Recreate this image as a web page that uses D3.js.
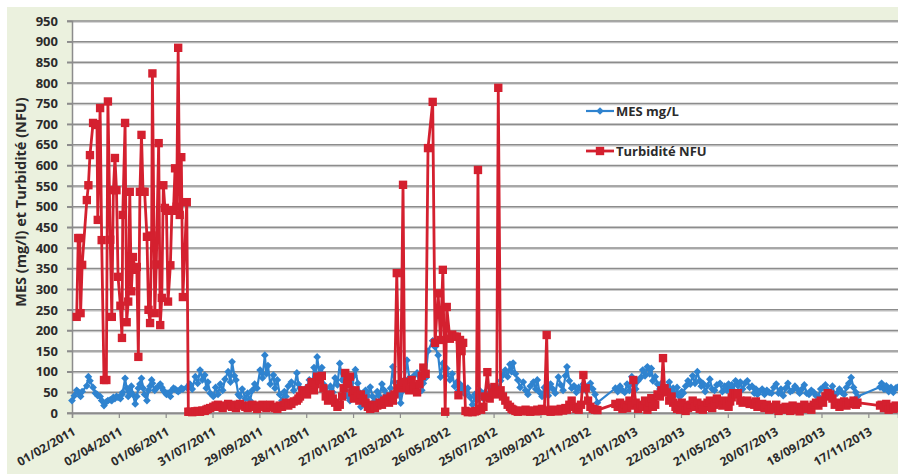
<!DOCTYPE html>
<html>
<head>
<meta charset="utf-8">
<script src="https://cdn.jsdelivr.net/npm/d3@7"></script>
<style>
  html, body { margin: 0; padding: 0; background: #ffffff; }
  svg { display: block; }
</style>
</head>
<body>
<svg id="chart" width="898" height="474"></svg>
<script>
// Suivi MES / turbidité — dates de prélèvement exprimées en jours depuis le 01/02/2011
const startDate = "01/02/2011";
const axisEndDate = "25/12/2013";

const tickLabels = [
  "01/02/2011", "02/04/2011", "01/06/2011", "31/07/2011", "29/09/2011", "28/11/2011",
  "27/01/2012", "27/03/2012", "26/05/2012", "25/07/2012", "23/09/2012", "22/11/2012",
  "21/01/2013", "22/03/2013", "21/05/2013", "20/07/2013", "18/09/2013", "17/11/2013"
];

const yTickValues = [0, 50, 100, 150, 200, 250, 300, 350, 400, 450, 500,
  550, 600, 650, 700, 750, 800, 850, 900, 950];

const seriesNames = ["MES mg/L", "Turbidité NFU"];

const sampleDay = [
  0, 3, 6, 8, 10, 11, 13, 19, 21, 23, 27, 30, 32, 33, 36, 38, 41, 44, 46, 49,
  51, 53, 55, 57, 59, 62, 64, 65, 68, 70, 72, 74, 76, 78, 81, 83, 85, 87, 89, 91,
  93, 96, 98, 100, 102, 103, 106, 108, 111, 113, 115, 117, 119, 121, 123, 126, 128, 130, 132, 134,
  136, 138, 140, 142, 147, 149,
  151, 154, 158, 161, 164, 167, 170, 172, 174, 177, 181, 184, 187, 190, 193, 196, 200, 203, 205, 208,
  210, 213, 215, 218, 222, 225, 228, 231, 234, 237, 241, 244, 247, 249, 251, 254, 258, 260, 263, 266,
  269, 272, 274, 277, 281, 284, 288, 290, 292, 295, 298,
  301, 304, 307, 310, 312, 314, 317, 320, 322, 325, 328, 331, 334, 337, 340, 343, 346, 348, 350, 353,
  356, 359, 361, 363, 366, 368, 370, 373, 376, 379, 382, 385, 388, 391, 394, 397, 400, 403, 406, 408,
  411, 413, 416, 419, 421, 424, 426, 429, 432, 435, 438, 442, 445, 448, 450, 453, 456, 462, 465, 469,
  472, 475, 478, 480, 484, 487, 490, 493, 495, 497, 499, 501, 504, 507, 510, 513, 516, 518, 520, 522,
  524, 527, 529, 532, 535, 538, 541, 544, 546, 549, 552, 555, 558, 561, 563, 565, 568, 571, 574, 578,
  581, 584, 587, 591, 594, 596, 599, 602, 605, 608, 610, 613, 616, 619, 623, 626, 629, 632, 634, 637,
  640, 643, 646, 649, 652, 655, 658, 661, 664, 667, 670, 673,
  696, 699, 702, 705, 708, 711, 714, 717, 719, 722, 725, 728, 731, 734, 737, 740, 742, 744, 747, 750,
  753, 755, 757, 759, 762, 765, 768, 770, 773, 775, 777, 779, 781, 783, 786, 789, 792, 795, 798, 801,
  804, 806, 808, 811, 814, 817, 820, 823, 826, 830, 833, 836, 839, 841, 843, 845, 847, 850, 853, 856,
  859, 862, 865, 868, 871, 874, 876, 878, 881, 884, 887, 890, 893, 896, 899, 902, 905, 908, 911, 914,
  917, 920, 923, 926, 929, 932, 935, 938, 941, 944, 947, 950, 953, 956, 959, 962, 965, 968, 971, 974,
  977, 980, 983, 986, 989, 992, 995, 998, 1001, 1004, 1006,
  1035, 1037, 1040, 1043, 1046, 1049, 1052, 1055, 1057
];

const mes = [
  30, 42, 55, 50, 48, 40, 52, 66, 88, 78, 62, 48, 45, 42, 40, 30, 18, 27, 30, 32,
  30, 38, 35, 40, 38, 35, 45, 50, 84, 60, 40, 52, 65, 45, 22, 40, 60, 70, 84, 60,
  45, 30, 55, 65, 80, 72, 55, 60, 65, 70, 62, 55, 50, 45, 48, 40, 55, 60, 58, 55,
  52, 55, 60, 58, 62, 62,
  70, 58, 88, 72, 104, 80, 92, 60, 75, 48, 40, 62, 45, 70, 55, 82, 100, 75, 124, 90,
  80, 45, 40, 58, 35, 48, 30, 55, 70, 60, 104, 85, 140, 95, 115, 70, 92, 60, 80, 45,
  30, 52, 40, 65, 75, 55, 97, 70, 60, 45, 55,
  63, 80, 55, 110, 78, 136, 95, 110, 70, 60, 40, 65, 50, 85, 68, 120, 80, 95, 55, 40,
  30, 60, 90, 105, 72, 50, 15, 38, 55, 42, 63, 40, 30, 52, 40, 70, 55, 45, 35, 60,
  112, 75, 60, 45, 24, 55, 80, 128, 85, 65, 90, 97, 70, 55, 72, 85, 150, 175, 160, 140,
  87, 120, 90, 108, 80, 95, 65, 75, 55, 70, 50, 62, 45, 60, 38, 20, 45, 30, 40, 55,
  48, 35, 50, 40, 62, 55, 45, 63, 58, 78, 92, 104, 88, 118, 100, 121, 95, 80, 62, 75,
  55, 45, 65, 75, 58, 80, 50, 40, 62, 55, 42, 70, 58, 48, 87, 68, 55, 90, 112, 78,
  60, 66, 50, 62, 58, 70, 55, 62, 72, 58, 45, 25,
  60, 52, 65, 55, 50, 70, 55, 88, 68, 58, 78, 85, 104, 90, 112, 95, 108, 78, 88, 70,
  58, 72, 60, 52, 62, 75, 50, 60, 45, 62, 42, 40, 52, 48, 65, 78, 70, 90, 72, 100,
  78, 65, 72, 52, 66, 82, 58, 55, 68, 72, 52, 65, 55, 70, 58, 68, 55, 78, 66, 75,
  58, 72, 78, 62, 65, 48, 58, 45, 52, 58, 45, 55, 50, 48, 62, 70, 48, 58, 42, 60,
  72, 52, 55, 65, 58, 48, 58, 68, 48, 45, 55, 50, 42, 40, 58, 62, 68, 55, 50, 65,
  45, 48, 58, 50, 45, 62, 72, 86, 62, 50, 40,
  63, 72, 58, 66, 52, 62, 50, 60, 62
];

const turbidite = [
  null, null, 233, 424, 424, 242, 359, 516, 552, 625, 703, 700, 698, 468, 739, 419, 80, 80, 755, 420,
  233, 540, 618, 540, 330, 260, 182, 480, 703, 220, 270, 536, 295, 378, 347, 354, 136, 536, 674, 536,
  536, 427, 250, 218, 430, 823, 242, 360, 654, 213, 279, 552, 497, 490, 270, 358, 492, 490, 593, 500,
  885, 480, 620, 281, 511, 3,
  3, 2, 4, 5, 3, 6, 5, 8, 10, 12, 15, 18, 20, 15, 12, 18, 22, 20, 15, 18,
  12, 20, 22, 18, 15, 12, 18, 20, 15, 10, 18, 20, 15, 12, 18, 20, 15, 12, 10, 18,
  15, 20, 25, 18, 22, 28, 30, 35, 40, 55, 48,
  45, 60, 75, 55, 70, 88, 80, 90, 60, 40, 30, 45, 35, 25, 15, 20, 40, 60, 97, 70,
  88, 50, 35, 55, 40, 30, 45, 35, 25, 15, 10, 20, 12, 18, 25, 20, 30, 35, 25, 40,
  30, 45, 339, 60, 70, 553, 75, 60, 55, 80, 65, 50, 70, 90, 110, 95, 642, 754, 170, 290,
  177, 347, 3, 257, 180, 190, 185, 185, 43, 177, 150, 170, 5, 2, 3, 2, 4, 5, 589, 10,
  8, 15, 40, 99, 35, 50, 63, 45, 788, 55, 40, 30, 20, 15, 10, 8, 5, 3, 6, 4,
  8, 5, 3, 6, 4, 8, 5, 10, 6, 189, 5, 3, 8, 5, 4, 10, 6, 12, 8, 20,
  30, 15, 10, 8, 20, 92, 60, 30, 15, 10, 8, 7,
  22, 15, 25, 10, 20, 12, 30, 18, 80, 25, 10, 20, 15, 30, 8, 25, 36, 15, 20, 45,
  40, 55, 133, 60, 50, 30, 40, 25, 15, 10, 20, 8, 25, 18, 5, 12, 20, 30, 15, 25,
  10, 20, 8, 15, 25, 30, 12, 20, 35, 25, 18, 30, 22, 15, 28, 38, 48, 45, 48, 30,
  25, 28, 30, 22, 25, 20, 28, 15, 18, 22, 12, 20, 8, 15, 10, 20, 5, 12, 8, 15,
  10, 5, 18, 8, 15, 4, 12, 20, 10, 15, 8, 20, 25, 18, 30, 25, 40, 48, 45, 35,
  20, 25, 15, 20, 28, 18, 22, 25, 30, 20, 25,
  18, 20, 12, 22, 8, 15, 10, 18, 12
];

const colors = { mes: "#2f83cf", turb: "#d4202f" };

// ---- layout ----
const W = 898, H = 474;
const plot = { left: 72, right: 898, top: 21, bottom: 413 };

const parseDate = d3.utcParse("%d/%m/%Y");
const start = parseDate(startDate);
const dates = sampleDay.map(d => d3.utcDay.offset(start, d));

const x = d3.scaleUtc()
  .domain([start, parseDate(axisEndDate)])
  .range([plot.left, plot.right]);

const y = d3.scaleLinear()
  .domain([0, 950])
  .range([plot.bottom, plot.top]);

const svg = d3.select("#chart");
const font = "'Open Sans', 'Liberation Sans', Arial, sans-serif";

// chart area background
svg.append("rect").attr("x", 0).attr("y", 0).attr("width", W).attr("height", H).attr("fill", "#ffffff");
svg.append("rect").attr("x", 7).attr("y", 7).attr("width", W - 7).attr("height", H - 7).attr("fill", "#ebf1de");
svg.append("rect")
  .attr("x", plot.left).attr("y", plot.top)
  .attr("width", plot.right - plot.left).attr("height", plot.bottom - plot.top)
  .attr("fill", "#ffffff");

// horizontal gridlines
const grid = svg.append("g");
grid.selectAll("line.shadow").data(yTickValues).join("line")
  .attr("class", "shadow")
  .attr("x1", plot.left).attr("x2", plot.right)
  .attr("y1", d => y(d) + 1.3).attr("y2", d => y(d) + 1.3)
  .attr("stroke", "#cccccc").attr("stroke-width", 1);
grid.selectAll("line.main").data(yTickValues).join("line")
  .attr("class", "main")
  .attr("x1", plot.left - 5).attr("x2", plot.right)
  .attr("y1", d => y(d)).attr("y2", d => y(d))
  .attr("stroke", "#8c8c8c").attr("stroke-width", 1.5);

// y axis
const yAxis = svg.append("g")
  .attr("transform", `translate(${plot.left},0)`)
  .call(d3.axisLeft(y).tickValues(yTickValues).tickSize(5).tickPadding(9));
yAxis.select(".domain").attr("stroke", "#8c8c8c").attr("stroke-width", 1.5);
yAxis.selectAll(".tick line").attr("stroke", "#8c8c8c").attr("stroke-width", 1.5);
yAxis.selectAll(".tick text")
  .attr("font-family", font).attr("font-size", 13).attr("font-weight", 700)
  .attr("fill", "#2b2b2b");

// x axis
const tickDates = tickLabels.map(parseDate);
const xAxis = svg.append("g")
  .attr("transform", `translate(0,${plot.bottom})`)
  .call(d3.axisBottom(x).tickValues(tickDates).tickSize(5)
    .tickFormat(d3.utcFormat("%d/%m/%Y")));
xAxis.select(".domain").attr("stroke", "#8c8c8c").attr("stroke-width", 1.5);
xAxis.selectAll(".tick line").attr("stroke", "#8c8c8c").attr("stroke-width", 1.2);
xAxis.selectAll(".tick text")
  .attr("font-family", font).attr("font-size", 12).attr("font-weight", 700)
  .attr("fill", "#2b2b2b")
  .attr("text-anchor", "end")
  .attr("dy", null)
  .attr("y", 0)
  .attr("transform", "translate(4,21) rotate(-30)");

// y axis title
svg.append("text")
  .attr("transform", "translate(26,202) rotate(-90)")
  .attr("text-anchor", "middle")
  .attr("font-family", font).attr("font-size", 14.5).attr("font-weight", 700)
  .attr("fill", "#2b2b2b")
  .text("MES (mg/l) et Turbidité (NFU)");

// series
const rows = sampleDay.map((d, i) => ({ date: dates[i], mes: mes[i], turb: turbidite[i] }));

const lineMes = d3.line().defined(d => d.mes != null)
  .x(d => x(d.date)).y(d => y(d.mes));
const lineTurb = d3.line().defined(d => d.turb != null)
  .x(d => x(d.date)).y(d => y(d.turb));

const diamond = d3.symbol().type(d3.symbolSquare).size(30);
const square = d3.symbol().type(d3.symbolSquare).size(70);

const gMes = svg.append("g");
gMes.append("path").datum(rows).attr("d", lineMes)
  .attr("fill", "none").attr("stroke", colors.mes).attr("stroke-width", 2.2)
  .attr("stroke-linejoin", "round");
gMes.selectAll("path.pt").data(rows.filter(d => d.mes != null)).join("path")
  .attr("class", "pt")
  .attr("d", diamond)
  .attr("transform", d => `translate(${x(d.date)},${y(d.mes)}) rotate(45)`)
  .attr("fill", colors.mes);

const gTurb = svg.append("g");
gTurb.append("path").datum(rows).attr("d", lineTurb)
  .attr("fill", "none").attr("stroke", colors.turb).attr("stroke-width", 2.8)
  .attr("stroke-linejoin", "round");
gTurb.selectAll("path.pt").data(rows.filter(d => d.turb != null)).join("path")
  .attr("class", "pt")
  .attr("d", square)
  .attr("transform", d => `translate(${x(d.date)},${y(d.turb)})`)
  .attr("fill", colors.turb);

// legend
const legend = svg.append("g").attr("transform", "translate(586,0)");
const legendItems = [
  { name: seriesNames[0], color: colors.mes, sym: diamond, rot: 45, cy: 111 },
  { name: seriesNames[1], color: colors.turb, sym: square, rot: 0, cy: 151 }
];
legendItems.forEach(it => {
  legend.append("line").attr("x1", 0).attr("x2", 28).attr("y1", it.cy).attr("y2", it.cy)
    .attr("stroke", it.color).attr("stroke-width", it.rot ? 2.2 : 2.8);
  legend.append("path").attr("d", it.sym)
    .attr("transform", `translate(14,${it.cy}) rotate(${it.rot})`)
    .attr("fill", it.color);
  legend.append("text").attr("x", 30).attr("y", it.cy + 4.5)
    .attr("font-family", font).attr("font-size", 13).attr("font-weight", 700)
    .attr("fill", "#2b2b2b").text(it.name);
});
</script>
</body>
</html>
